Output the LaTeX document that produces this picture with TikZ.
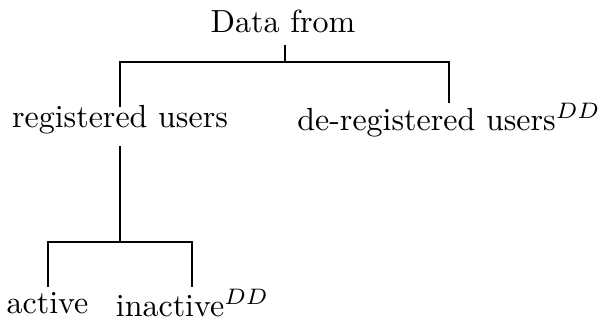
\documentclass[tikz,border=0pt]{standalone}
\usepackage{amsmath}
\usepackage{tikz}

\begin{document}
\begin{tikzpicture}[x=0.5pt,y=-0.5pt,line width=0.6pt]
    \tikzstyle{every node}=[font=\normalsize,inner sep=0pt,scale=1.6,transform shape]
    \useasboundingbox (0,0) rectangle (599,322);

    \node (from) at (283,21) {Data from};
    \node (reg) at (120,120) {registered\ users};
    \node (dereg) at (449,120) {de-registered\ users$^{DD}$};
    \node (act) at (47.5,303) {active};
    \node (inact) at (192.5,303) {inactive$^{DD}$};

    \coordinate (top) at (285,45);
    \coordinate (split) at (285,62);
    \coordinate (regtop) at (120,107);
    \coordinate (deregtop) at (449,103);
    \coordinate (regbot) at (120,146);
    \coordinate (fork) at (120,242);
    \coordinate (acttop) at (48,287);
    \coordinate (inacttop) at (192,287);

    \draw (top) -- (split);
    \draw (regtop) |- (split) -| (deregtop);

    \draw (regbot) -- (fork);
    \draw (acttop) |- (fork) -| (inacttop);

\end{tikzpicture}
\end{document}
